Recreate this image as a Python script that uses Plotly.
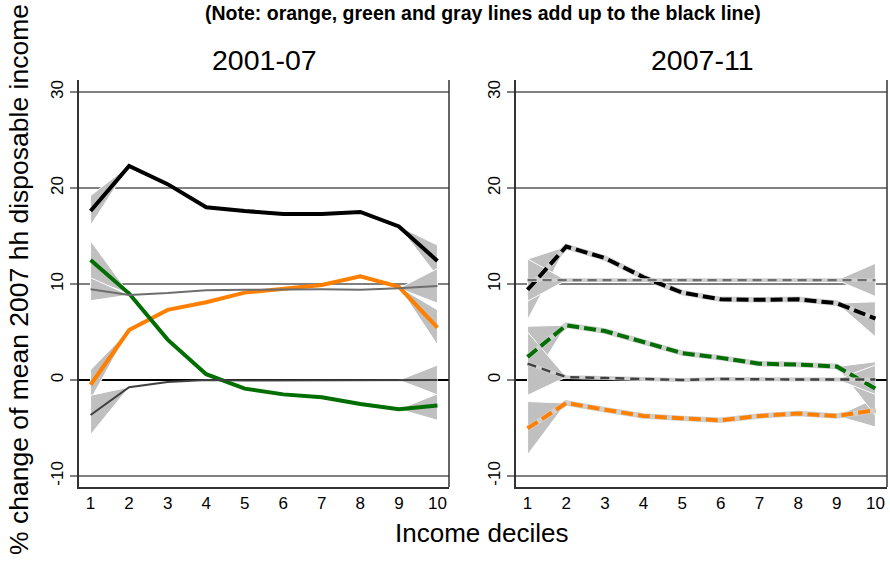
import plotly.graph_objects as go

# ---- data -------------------------------------------------------------
deciles = [1, 2, 3, 4, 5, 6, 7, 8, 9, 10]

# 2001-07 (solid lines)
p1_total = [17.6, 22.3, 20.4, 18.0, 17.6, 17.3, 17.3, 17.5, 16.0, 12.4]
p1_orange = [-0.5, 5.2, 7.3, 8.1, 9.1, 9.5, 9.9, 10.8, 9.7, 5.45]
p1_green = [12.5, 9.0, 4.2, 0.6, -0.9, -1.5, -1.8, -2.5, -3.05, -2.67]
p1_gray = [9.45, 8.85, 9.05, 9.35, 9.4, 9.45, 9.45, 9.4, 9.55, 9.8]
p1_dgray = [-3.65, -0.75, -0.2, 0.0, -0.05, -0.05, -0.05, -0.05, -0.02, 0.0]

# 2001-07 confidence bounds at the first and last decile: (lo, hi)
p1_total_ci = [(16.1, 19.2), (10.8, 14.05)]
p1_orange_ci = [(-2.05, 1.05), (3.65, 7.3)]
p1_green_ci = [(10.5, 14.5), (-4.2, -1.45)]
p1_gray_ci = [(8.25, 10.65), (8.0, 11.6)]
p1_dgray_ci = [(-5.7, -1.6), (-1.55, 1.55)]

# 2007-11 (dashed lines)
p2_total = [9.4, 13.9, 12.7, 10.7, 9.1, 8.4, 8.35, 8.4, 8.0, 6.4]
p2_orange = [-5.05, -2.4, -3.1, -3.75, -4.0, -4.2, -3.75, -3.5, -3.75, -3.15]
p2_green = [2.4, 5.7, 5.1, 4.0, 2.8, 2.3, 1.7, 1.6, 1.4, -0.9]
p2_gray = [10.4, 10.4, 10.4, 10.4, 10.4, 10.4, 10.4, 10.4, 10.4, 10.4]
p2_dgray = [1.7, 0.3, 0.2, 0.1, 0.0, 0.1, 0.05, 0.05, 0.05, 0.05]

p2_total_ci = [(6.25, 12.6), (4.5, 8.15)]
p2_orange_ci = [(-7.8, -2.25), (-4.9, -1.9)]
p2_green_ci = [(-0.8, 5.6), (-3.7, 1.9)]
p2_gray_ci = [(8.2, 12.6), (8.7, 12.15)]
p2_dgray_ci = [(-1.6, 5.0), (-1.5, 1.55)]

y_ticks = [-10, 0, 10, 20, 30]

# ---- styles -----------------------------------------------------------
C_BLACK = "#000000"
C_ORANGE = "#ff8000"
C_GREEN = "#006e00"
C_GRAY = "#6e6e6e"
C_DGRAY = "#404040"
C_BAND = "#c0c0c0"

FONT = "Liberation Sans, Arial, sans-serif"

fig = go.Figure()


def add_bands(xa, ya, vals, ci):
    # triangles from the end-decile bounds to the neighbouring value
    (lo1, hi1), (lo10, hi10) = ci
    xs = [deciles[0], deciles[1], deciles[0], deciles[0]]
    ys = [lo1, vals[1], hi1, lo1]
    fig.add_trace(go.Scatter(x=xs, y=ys, xaxis=xa, yaxis=ya, mode="lines",
                             fill="toself", fillcolor=C_BAND,
                             line=dict(color="white", width=1),
                             hoverinfo="skip", showlegend=False))
    xs = [deciles[9], deciles[8], deciles[9], deciles[9]]
    ys = [lo10, vals[8], hi10, lo10]
    fig.add_trace(go.Scatter(x=xs, y=ys, xaxis=xa, yaxis=ya, mode="lines",
                             fill="toself", fillcolor=C_BAND,
                             line=dict(color="white", width=1),
                             hoverinfo="skip", showlegend=False))


def add_line(xa, ya, vals, color, width, dash="solid", underlay=False):
    if underlay:
        fig.add_trace(go.Scatter(x=deciles, y=vals, xaxis=xa, yaxis=ya,
                                 mode="lines",
                                 line=dict(color="#cfcfcf", width=width + 1.5),
                                 hoverinfo="skip", showlegend=False))
    fig.add_trace(go.Scatter(x=deciles, y=vals, xaxis=xa, yaxis=ya,
                             mode="lines",
                             line=dict(color=color, width=width, dash=dash),
                             showlegend=False))


# panel 1
p1 = [
    (p1_total, p1_total_ci, C_BLACK, 4),
    (p1_orange, p1_orange_ci, C_ORANGE, 4),
    (p1_green, p1_green_ci, C_GREEN, 4),
    (p1_gray, p1_gray_ci, C_GRAY, 2),
    (p1_dgray, p1_dgray_ci, C_DGRAY, 2),
]
for vals, ci, _, _ in p1:
    add_bands("x", "y", vals, ci)
for vals, _, col, w in p1:
    add_line("x", "y", vals, col, w)

# panel 2
p2 = [
    (p2_total, p2_total_ci, C_BLACK, 4, "12px,5px"),
    (p2_orange, p2_orange_ci, C_ORANGE, 4, "12px,5px"),
    (p2_green, p2_green_ci, C_GREEN, 4, "12px,5px"),
    (p2_gray, p2_gray_ci, C_GRAY, 2.4, "9px,6px"),
    (p2_dgray, p2_dgray_ci, C_DGRAY, 2.4, "9px,6px"),
]
for vals, ci, _, _, _ in p2:
    add_bands("x2", "y2", vals, ci)
for vals, _, col, w, d in p2:
    add_line("x2", "y2", vals, col, w, d, underlay=True)

# ---- axes -------------------------------------------------------------
W, H = 890, 565
y_dom = [(H - 487) / H, (H - 80) / H]
x1_dom = [79 / W, 449 / W]
x2_dom = [516 / W, 887 / W]

xcommon = dict(range=[0.7, 10.3], tickvals=deciles, ticks="", showgrid=False,
               zeroline=False, showline=True, linecolor="#333333", linewidth=1.5,
               tickfont=dict(family=FONT, size=17, color="black"))
ycommon = dict(range=[-11.15, 31.25], tickvals=y_ticks, ticktext=[str(v) for v in y_ticks],
               tickangle=-90, ticks="outside", ticklen=7, tickcolor="#808080",
               tickwidth=1.5, showgrid=True, gridcolor="#808080", gridwidth=1.5,
               zeroline=True, zerolinecolor="black", zerolinewidth=1.5,
               showline=True, linecolor="#333333", linewidth=1.5,
               tickfont=dict(family=FONT, size=17, color="black"))

fig.update_layout(
    width=W, height=H,
    margin=dict(l=0, r=0, t=0, b=0),
    paper_bgcolor="white", plot_bgcolor="white",
    xaxis=dict(domain=x1_dom, anchor="y", **xcommon),
    yaxis=dict(domain=y_dom, anchor="x", **ycommon),
    xaxis2=dict(domain=x2_dom, anchor="y2", **xcommon),
    yaxis2=dict(domain=y_dom, anchor="x2", **ycommon),
)

# right-hand frame edges
for xr, yr in (("x domain", "y domain"), ("x2 domain", "y2 domain")):
    fig.add_shape(type="line", xref=xr, yref=yr, x0=1, x1=1, y0=0, y1=1,
                  line=dict(color="#333333", width=1.5))

# ---- text -------------------------------------------------------------
def ann(text, x, y, size, angle=0, bold=False):
    fig.add_annotation(text=f"<b>{text}</b>" if bold else text,
                       x=x / W, y=1 - y / H, xref="paper", yref="paper",
                       xanchor="center", yanchor="middle", showarrow=False,
                       textangle=angle,
                       font=dict(family=FONT, size=size, color="black"))


ann("(Note: orange, green and gray lines add up to the black line)", 483, 13, 19.5,
    bold=True)
ann("2001-07", 264, 60, 28.5)
ann("2007-11", 702, 60, 28.5)
ann("Income deciles", 481, 533, 26)
ann("% change of mean 2007 hh disposable income", 19, 280, 26.5, angle=-90)

fig.write_html("out.html")
